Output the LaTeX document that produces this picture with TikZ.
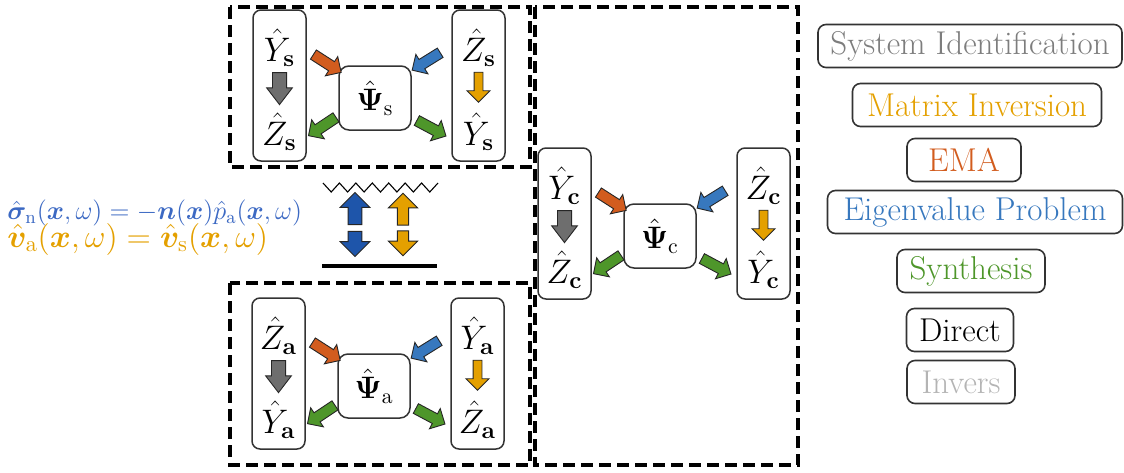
\RequirePackage{fix-cm}
\documentclass[tikz,border=0pt]{standalone}
\usepackage{amsmath,bm}
\usetikzlibrary{shapes.arrows}

\definecolor{sysgray}{RGB}{125,125,125}
\definecolor{invgold}{RGB}{228,160,0}
\definecolor{emaorange}{RGB}{210,92,30}
\definecolor{eigblue}{RGB}{55,120,190}
\definecolor{synthgreen}{RGB}{78,150,42}
\definecolor{arrgray}{RGB}{110,110,110}
\definecolor{deepblue}{RGB}{30,85,170}
\definecolor{eqblue}{RGB}{60,105,195}
\definecolor{invlight}{RGB}{180,180,180}

\tikzset{
  frame/.style={draw=black, line width=2pt, dash pattern=on 6pt off 3pt},
  colbox/.style={draw=black!80, line width=0.75pt, rounded corners=4pt,
    minimum width=26.5pt, minimum height=75.5pt, inner sep=0pt},
  psibox/.style={draw=black!80, line width=0.75pt, rounded corners=5pt,
    minimum width=36pt, minimum height=32pt, inner sep=0pt,
    font=\fontsize{15.5}{18}\selectfont},
  mtxt/.style={inner sep=0pt, font=\fontsize{17}{20}\selectfont},
  barrow/.style={single arrow, draw=black!85, line width=0.45pt,
    inner sep=2.5pt, single arrow head extend=3pt, single arrow head indent=0pt,
    minimum height=16.5pt, midway, sloped, allow upside down},
  legbox/.style={draw=black!80, line width=0.8pt, rounded corners=4pt,
    inner sep=0pt, minimum height=21.5pt, font=\fontsize{16.5}{19}\selectfont},
}

% One solver panel: #1 name prefix, #2/#3 top-left corner of the left column,
% #4 letter on top, #5 letter at the bottom, #6 subscript
\newcommand{\solverpanel}[6]{%
\begin{scope}[shift={(#2,#3)}]
  \node[colbox] (#1-L) at (26.5,75.5) {};
  \node[colbox] (#1-R) at (225.5,75.5) {};
  \node[psibox] (#1-P) at (122,88) {$\hat{\bm{\Psi}}_{\mathrm{#6}}$};
  \node[mtxt] (#1-LT) at (26.5,38) {$\hat{#4}_{\mathbf{#6}}$};
  \node[mtxt] (#1-LB) at (26.5,122) {$\hat{#5}_{\mathbf{#6}}$};
  \node[mtxt] (#1-RT) at (225.5,38) {$\hat{#5}_{\mathbf{#6}}$};
  \node[mtxt] (#1-RB) at (225.5,122) {$\hat{#4}_{\mathbf{#6}}$};
  % vertical conversions inside the columns
  \coordinate (#1-g1) at (26.5,58); \coordinate (#1-g2) at (26.5,90);
  \coordinate (#1-m1) at (225.5,60); \coordinate (#1-m2) at (225.5,90);
  \path (#1-g1) -- (#1-g2) node[barrow, fill=arrgray, inner sep=3.3pt,
    single arrow head extend=2.9pt, single arrow tip angle=75, minimum height=16pt] {};
  \path (#1-m1) -- (#1-m2) node[barrow, fill=invgold, inner sep=2pt,
    single arrow head extend=3.5pt, minimum height=15pt] {};
  % arrows into and out of the central operator
  \coordinate (#1-o1) at (58,43);  \coordinate (#1-o2) at (86,61);
  \coordinate (#1-b1) at (190,41); \coordinate (#1-b2) at (161,59);
  \coordinate (#1-l1) at (85,106); \coordinate (#1-l2) at (58,124);
  \coordinate (#1-r1) at (161,109); \coordinate (#1-r2) at (191,125);
  \path (#1-o1) -- (#1-o2) node[barrow, fill=emaorange] {};
  \path (#1-b1) -- (#1-b2) node[barrow, fill=eigblue] {};
  \path (#1-l1) -- (#1-l2) node[barrow, fill=synthgreen] {};
  \path (#1-r1) -- (#1-r2) node[barrow, fill=synthgreen] {};
\end{scope}}

\begin{document}
\begin{tikzpicture}[x=0.5pt, y=-0.5pt]
\useasboundingbox (0,0) rectangle (1124,472);

% dashed frames of the three subdomains
\draw[frame] (230,7) rectangle (530,167);
\draw[frame] (230,283) rectangle (530,465);
\draw[frame] (535,7) rectangle (798,465);

\solverpanel{s}{253}{10}{Y}{Z}{s}
\solverpanel{c}{538}{148}{Y}{Z}{c}
\solverpanel{a}{252}{298}{Z}{Y}{a}

% coupling conditions at the interface
\node[anchor=west, inner sep=0pt, text=eqblue, font=\fontsize{13.1}{16}\selectfont] (eq1) at (7,213)
  {$\hat{\bm{\sigma}}_{\mathrm{n}}(\bm{x},\omega) = -\bm{n}(\bm{x})\hat{p}_{\mathrm{a}}(\bm{x},\omega)$};
\node[anchor=west, inner sep=0pt, text=invgold, font=\fontsize{16}{19}\selectfont] (eq2) at (7,239)
  {$\hat{\bm{v}}_{\mathrm{a}}(\bm{x},\omega) = \hat{\bm{v}}_{\mathrm{s}}(\bm{x},\omega)$};

% interface: wavy structure surface, rigid line below
\draw[line width=0.55pt] (323,183) \foreach \i in {1,...,14}{ -- ({323+\i*115/14},{isodd(\i) ? 192 : 183}) };
\coordinate (gl) at (322,266); \coordinate (gr) at (437,266);
\draw[line width=1.6pt] (gl) -- (gr);

% two-way coupling arrows
\coordinate (bm) at (355,228); \coordinate (bt) at (355,196); \coordinate (bb) at (355,253);
\coordinate (om) at (403,228); \coordinate (ot) at (403,196); \coordinate (ob) at (403,253);
\path (bm) -- (bt) node[barrow, fill=deepblue, inner sep=3.2pt, single arrow head extend=4pt, minimum height=16pt] {};
\path (bm) -- (bb) node[barrow, fill=deepblue, inner sep=3.2pt, single arrow head extend=4pt, minimum height=12.5pt] {};
\path (om) -- (ot) node[barrow, fill=invgold, inner sep=2.6pt, single arrow head extend=4.5pt, minimum height=16pt] {};
\path (om) -- (ob) node[barrow, fill=invgold, inner sep=2.6pt, single arrow head extend=4.5pt, minimum height=12.5pt] {};

% legend
\node[legbox, minimum width=152pt, text=sysgray] (lg1) at (970,46) {System Identification};
\node[legbox, minimum width=124.5pt, text=invgold] (lg2) at (977,105) {Matrix Inversion};
\node[legbox, minimum width=57pt, text=emaorange] (lg3) at (964,160) {EMA};
\node[legbox, minimum width=147.5pt, text=eigblue] (lg4) at (975,212) {Eigenvalue Problem};
\node[legbox, minimum width=74pt, text=synthgreen] (lg5) at (971,271) {Synthesis};
\node[legbox, minimum width=53.5pt, text=black] (lg6) at (960,330) {Direct};
\node[legbox, minimum width=54pt, text=invlight] (lg7) at (961,382) {Invers};
\end{tikzpicture}
\end{document}
